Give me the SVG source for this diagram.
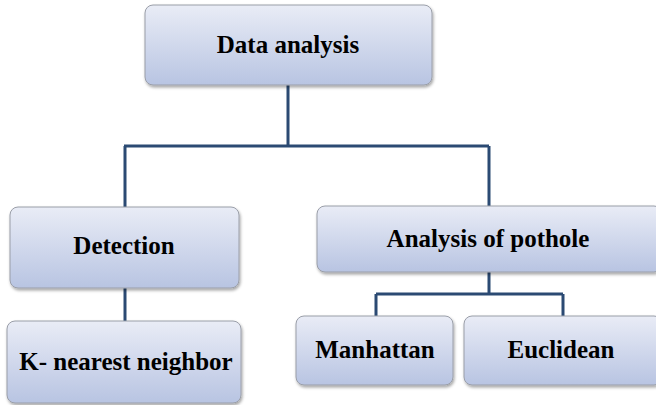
<svg xmlns="http://www.w3.org/2000/svg" width="656" height="405" viewBox="0 0 656 405">
<defs>
<linearGradient id="g" x1="0" y1="0" x2="0" y2="1">
<stop offset="0" stop-color="#e9ecf6"/>
<stop offset="1" stop-color="#b8c4e2"/>
</linearGradient>
<filter id="sh" x="-10%" y="-10%" width="120%" height="130%">
<feDropShadow dx="1" dy="2" stdDeviation="1.5" flood-color="#000" flood-opacity="0.35"/>
</filter>
</defs>
<style>
.box{fill:url(#g);stroke:#9a9ea8;stroke-width:1;filter:url(#sh)}
.t{font-family:"Liberation Serif","Times New Roman",serif;font-weight:bold;font-size:25px;fill:#000;text-anchor:middle}
.c{fill:none;stroke:#2b4a73;stroke-width:3}
</style>
<rect width="656" height="405" fill="#fff"/>
<g id="connectors">
<path class="c" d="M288 85V146M124 146H489M125 146V207M489 146V206"/>
<path class="c" d="M125 288V321"/>
<path class="c" d="M489 272V294M376 294H563M376 294V316M563 294V316"/>
</g>
<g id="data-analysis">
<rect class="box" x="145" y="5" width="287" height="80" rx="8"/>
<text class="t" x="288" y="53">Data analysis</text>
</g>
<g id="detection">
<rect class="box" x="10" y="207" width="229" height="81" rx="8"/>
<text class="t" x="124" y="254">Detection</text>
</g>
<g id="analysis-of-pothole">
<rect class="box" x="317" y="206" width="345" height="66" rx="8"/>
<text class="t" x="488" y="247">Analysis of pothole</text>
</g>
<g id="knn">
<rect class="box" x="7" y="321" width="234" height="82" rx="8"/>
<text class="t" x="126" y="370">K- nearest neighbor</text>
</g>
<g id="manhattan">
<rect class="box" x="296" y="316" width="157" height="69" rx="8"/>
<text class="t" x="375" y="358">Manhattan</text>
</g>
<g id="euclidean">
<rect class="box" x="464" y="316" width="198" height="69" rx="8"/>
<text class="t" x="561" y="358">Euclidean</text>
</g>
</svg>
